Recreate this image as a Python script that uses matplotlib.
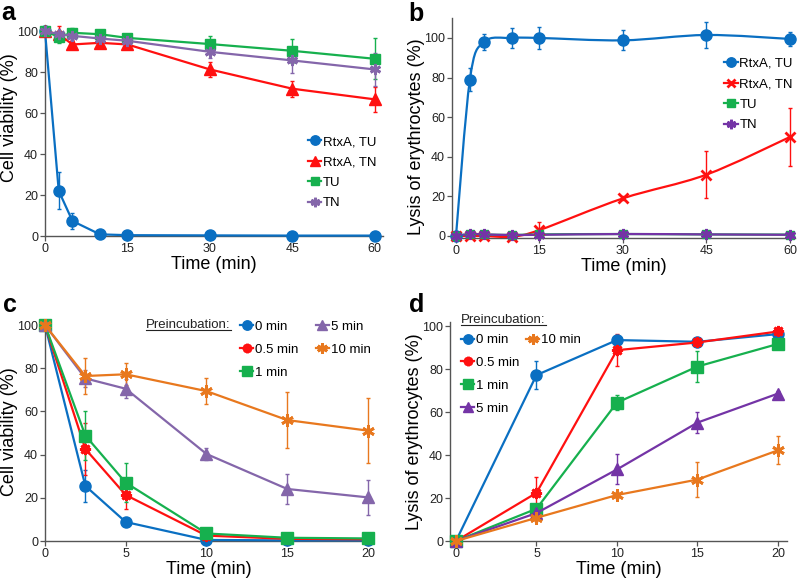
import numpy as np
import matplotlib
matplotlib.use('Agg')
import matplotlib.pyplot as plt
from matplotlib.path import Path
from matplotlib.patches import PathPatch
from matplotlib.lines import Line2D

plt.rcParams['font.family'] = ['Liberation Sans', 'DejaVu Sans']

# panel a / b
t_ab = [0, 2.5, 5, 10, 15, 30, 45, 60]
labels_ab = ['RtxA, TU', 'RtxA, TN', 'TU', 'TN']

a_vals = [
    [100, 22, 7.3, 0.8, 0.4, 0.3, 0.2, 0.2],
    [100, 98.5, 93.5, 94.3, 93.5, 81.3, 71.9, 66.7],
    [100, 97.2, 99.2, 98.5, 96.7, 93.7, 90.4, 86.5],
    [100, 98.5, 97.7, 96.4, 95.3, 89.9, 85.7, 81.3],
]
a_err = [
    [0, 9, 4, 0.5, 0.3, 0.2, 0.2, 0.2],
    [0, 4, 1.5, 1.5, 1.5, 3.5, 4, 6],
    [0, 3, 2.5, 2, 2, 4, 6, 10],
    [0, 2, 2, 2, 2, 3, 6, 8],
]

b_vals = [
    [0, 79, 98, 100, 100, 98.8, 101.5, 99.5],
    [0, 0, 0, -0.3, 3, 19, 31, 50],
    [0, 1, 0.8, 0.5, 0.8, 1, 0.8, 0.7],
    [0, 1, 0.8, 0.5, 0.6, 1, 0.8, 0.6],
]
b_err = [
    [0, 6, 4, 5, 5.5, 5, 6.5, 3.5],
    [0, 0.5, 0.5, 0.5, 4, 1, 12, 14.5],
    [0, 0.5, 0.5, 0.5, 0.5, 0.5, 0.5, 0.5],
    [0, 0.5, 0.5, 0.5, 0.5, 0.5, 0.5, 0.5],
]

# panel c / d
t_c = [0, 2.5, 5, 10, 15, 20]
t_d = [0, 5, 10, 15, 20]
labels_cd = ['0 min', '0.5 min', '1 min', '5 min', '10 min']

c_vals = [
    [100, 25.5, 8.8, 0.5, 0.3, 0.3],
    [100, 42.6, 21.3, 2.5, 1, 0.8],
    [100, 48.8, 27, 3.5, 1.5, 1.2],
    [100, 75.3, 70.5, 40.3, 24.1, 20.2],
    [100, 76.4, 77.2, 69.4, 56, 51.1],
]
c_err = [
    [0, 7.5, 2, 0.5, 0.3, 0.3],
    [0, 12, 6.5, 0.5, 0.5, 0.5],
    [0, 11.5, 9, 0.5, 0.5, 0.5],
    [0, 4, 4.5, 3, 7, 8],
    [0, 8.5, 5, 6, 13, 15],
]

d_vals = [
    [0, 77.2, 93.5, 92.7, 96.3],
    [0, 22.4, 88.8, 92.4, 97.5],
    [0, 15, 64.4, 81.2, 91.7],
    [0, 13, 33.3, 55.1, 68.6],
    [0, 10.8, 21.4, 28.6, 42.2],
]
d_err = [
    [0, 6.5, 1, 1, 1],
    [0, 7.5, 7.5, 1.5, 1],
    [0, 2, 3.5, 7, 1.5],
    [0, 1, 7, 5, 1],
    [0, 1.5, 1.5, 8, 6.5],
]

blue = '#0A6FC2'
red = '#FF1010'
green = '#16B04E'
purple = '#8466AA'
purple_d = '#7434A6'
orange = '#E8781E'
star6 = (6, 2, 0)
star8 = (8, 2, 0)

a_style = [(blue, 'o', 8), (red, '^', 8), (green, 's', 7), (purple, star6, 8)]
b_style = [(blue, 'o', 8), (red, 'x', 7), (green, 's', 6), (purple_d, star6, 8)]
c_style = [(blue, 'o', 8), (red, star8, 8), (green, 's', 8), (purple, '^', 8), (orange, star6, 9)]
d_style = [(blue, 'o', 8), (red, star8, 8), (green, 's', 8), (purple_d, '^', 8), (orange, star6, 9)]


def smooth(x, y):
    # catmull-rom curve through the points, as bezier segments
    p = np.column_stack([x, y]).astype(float)
    verts = [p[0]]
    codes = [Path.MOVETO]
    n = len(p)
    for i in range(n - 1):
        p0 = p[i - 1] if i > 0 else p[i]
        p3 = p[i + 2] if i + 2 < n else p[i + 1]
        c1 = p[i] + (p[i + 1] - p0) / 6
        c2 = p[i + 1] - (p3 - p[i]) / 6
        verts += [c1, c2, p[i + 1]]
        codes += [Path.CURVE4] * 3
    return Path(verts, codes)


def style_axes(ax):
    for s in ['top', 'right']:
        ax.spines[s].set_visible(False)
    for s in ['left', 'bottom']:
        ax.spines[s].set_color('#555555')
        ax.spines[s].set_linewidth(1)
    ax.tick_params(direction='out', length=3.5, width=0.9, color='#555555',
                   labelsize=9, labelcolor='#222222', pad=1.5)


def draw(ax, x, vals, errs, styles, labels, smooth_lines=False):
    handles = []
    for v, e, (col, m, ms), lab in zip(vals, errs, styles, labels):
        mew = 2 if m in (star6, star8, 'x') else 1
        ax.errorbar(x, v, yerr=e, fmt='none', ecolor=col, elinewidth=1,
                    capsize=1.5, capthick=1, clip_on=False, zorder=2)
        if smooth_lines:
            ax.add_patch(PathPatch(smooth(x, v), fill=False, edgecolor=col,
                                   lw=1.6, zorder=3, clip_on=False))
            ax.plot(x, v, ls='none', marker=m, ms=ms, color=col, mew=mew,
                    clip_on=False, zorder=4)
        else:
            ax.plot(x, v, ls='-', lw=1.6, marker=m, ms=ms, color=col, mew=mew,
                    clip_on=False, zorder=4)
        handles.append(Line2D([], [], color=col, lw=1.6, marker=m,
                              ms=ms * 0.85, mew=mew, label=lab))
    return handles


leg_kw = dict(frameon=False, fontsize=9.5, handlelength=1.0, handletextpad=0.15,
              borderpad=0, borderaxespad=0)

fig = plt.figure(figsize=(7.98, 5.8), dpi=100)

ax_a = fig.add_axes([0.0564, 0.5931, 0.4236, 0.3638])
ax_b = fig.add_axes([0.5664, 0.5897, 0.4298, 0.3790])
ax_c = fig.add_axes([0.0564, 0.0672, 0.4098, 0.3776])
ax_d = fig.add_axes([0.5639, 0.0672, 0.4223, 0.3776])

# a
h = draw(ax_a, t_ab, a_vals, a_err, a_style, labels_ab)
ax_a.set_xlim(0, 61.5)
ax_a.set_ylim(0, 103)
ax_a.set_xticks([0, 15, 30, 45, 60])
ax_a.set_yticks([0, 20, 40, 60, 80, 100])
ax_a.set_ylabel('Cell viability (%)', fontsize=13)
ax_a.yaxis.set_label_coords(-0.081, 0.56)
ax_a.legend(handles=h, loc='upper left', bbox_to_anchor=(0.778, 0.475),
            labelspacing=0.62, **leg_kw)

# b
h = draw(ax_b, t_ab, b_vals, b_err, b_style, labels_ab, smooth_lines=True)
ax_b.set_xlim(-0.72, 60.9)
ax_b.set_ylim(-1, 110)
ax_b.set_xticks([0, 15, 30, 45, 60])
ax_b.set_yticks([0, 20, 40, 60, 80, 100])
ax_b.set_ylabel('Lysis of erythrocytes (%)', fontsize=13)
ax_b.yaxis.set_label_coords(-0.079, 0.46)
ax_b.legend(handles=h, loc='upper left', bbox_to_anchor=(0.794, 0.82),
            labelspacing=0.62, **leg_kw)

# c
h = draw(ax_c, t_c, c_vals, c_err, c_style, labels_cd)
ax_c.set_xlim(0, 20.25)
ax_c.set_ylim(0, 101.4)
ax_c.set_xticks([0, 5, 10, 15, 20])
ax_c.set_yticks([0, 20, 40, 60, 80, 100])
ax_c.set_ylabel('Cell viability (%)', fontsize=13)
ax_c.yaxis.set_label_coords(-0.084, 0.5)
ax_c.legend(handles=h, loc='upper left', bbox_to_anchor=(0.596, 1.006), ncol=2,
            labelspacing=0.8, columnspacing=1.3, **leg_kw)
pre_c = ax_c.text(0.309, 0.986, 'Preincubation:', transform=ax_c.transAxes,
                  fontsize=9.5, va='center', ha='left', color='#222222')

# d
h = draw(ax_d, t_d, d_vals, d_err, d_style, labels_cd)
blank = Line2D([], [], ls='none', marker=None, label=' ')
h = h[:4] + [h[4], blank, blank, blank]
ax_d.set_xlim(-0.37, 20.56)
ax_d.set_ylim(0, 101.9)
ax_d.set_xticks([0, 5, 10, 15, 20])
ax_d.set_yticks([0, 20, 40, 60, 80, 100])
ax_d.set_ylabel('Lysis of erythrocytes (%)', fontsize=13)
ax_d.yaxis.set_label_coords(-0.080, 0.5)
ax_d.legend(handles=h, loc='upper left', bbox_to_anchor=(0.033, 0.945), ncol=2,
            labelspacing=0.8, columnspacing=0.5, **leg_kw)
pre_d = ax_d.text(0.033, 1.009, 'Preincubation:', transform=ax_d.transAxes,
                  fontsize=9.5, va='center', ha='left', color='#222222')

for ax in [ax_a, ax_b, ax_c, ax_d]:
    style_axes(ax)
    ax.set_xlabel('Time (min)', fontsize=13, labelpad=1)

fig.text(0.002, 0.978, 'a', fontsize=18, fontweight='bold', va='center')
fig.text(0.512, 0.976, 'b', fontsize=18, fontweight='bold', va='center')
fig.text(0.004, 0.474, 'c', fontsize=18, fontweight='bold', va='center')
fig.text(0.512, 0.474, 'd', fontsize=18, fontweight='bold', va='center')

# underline "Preincubation:"
fig.canvas.draw()
r = fig.canvas.get_renderer()
for t in [pre_c, pre_d]:
    bb = t.get_window_extent(r).transformed(fig.transFigure.inverted())
    fig.add_artist(Line2D([bb.x0, bb.x1], [bb.y0 + 0.002, bb.y0 + 0.002],
                          color='#222222', lw=0.8, transform=fig.transFigure))

fig.savefig('out.png', dpi=100)
